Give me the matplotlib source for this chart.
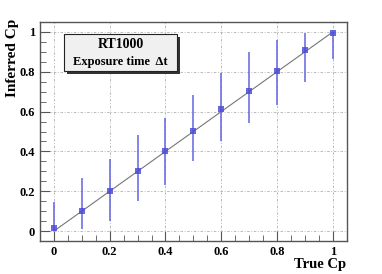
import matplotlib
matplotlib.use("Agg")
import matplotlib.pyplot as plt
from matplotlib.ticker import MultipleLocator
from matplotlib.patches import Rectangle

true_cp = [0.0, 0.1, 0.2, 0.3, 0.4, 0.5, 0.6, 0.7, 0.8, 0.9, 1.0]
inferred_cp = [0.013, 0.103, 0.200, 0.303, 0.401, 0.503, 0.612, 0.702, 0.803, 0.911, 0.993]
err_up = [0.145, 0.266, 0.360, 0.480, 0.567, 0.684, 0.793, 0.898, 0.958, 0.993, 1.0]
err_lo = [0.0, 0.012, 0.053, 0.149, 0.231, 0.353, 0.452, 0.545, 0.632, 0.748, 0.863]

plt.rcParams['font.family'] = ['Liberation Serif', 'DejaVu Serif']
plt.rcParams['font.weight'] = 'bold'

fig = plt.figure(figsize=(3.82, 2.74), dpi=100)
ax = fig.add_axes([0.1047, 0.1204, 0.803, 0.7993])

ax.grid(True, which='major', color='#b0b0b0', linestyle=(0, (3, 2, 1, 2)), linewidth=0.6)
ax.plot([0, 1], [0, 1], color='#777777', linewidth=0.8, zorder=2)

yerr = [[y - lo for y, lo in zip(inferred_cp, err_lo)],
        [hi - y for y, hi in zip(inferred_cp, err_up)]]
ax.errorbar(true_cp, inferred_cp, yerr=yerr, fmt='s', color='#4d4ddb',
            ecolor='#6464e0', elinewidth=1.3, capsize=0, markersize=4.5,
            markeredgewidth=0, alpha=0.85, zorder=3)

ax.set_xlim(-0.05, 1.05)
ax.set_ylim(-0.05, 1.05)
ax.xaxis.set_minor_locator(MultipleLocator(0.05))
ax.yaxis.set_minor_locator(MultipleLocator(0.05))
ax.set_xticks([0, 0.2, 0.4, 0.6, 0.8, 1.0])
ax.set_xticklabels(['0', '0.2', '0.4', '0.6', '0.8', '1'])
ax.set_yticks([0, 0.2, 0.4, 0.6, 0.8, 1.0])
ax.set_yticklabels(['0', '0.2', '0.4', '0.6', '0.8', '1'])
ax.tick_params(which='both', direction='in', labelsize=9, color='#555555')
ax.tick_params(which='major', length=7, pad=3.5)
ax.tick_params(which='minor', length=4)
for lab in ax.get_xticklabels() + ax.get_yticklabels():
    lab.set_fontweight('bold')
for s in ax.spines.values():
    s.set_color('#555555')
    s.set_linewidth(1.0)

fig.text(0.906, 0.035, 'True Cp', ha='right', va='center', fontsize=10.5, fontweight='bold')
fig.text(0.032, 0.93, 'Inferred Cp', ha='center', va='top', rotation=90,
         fontsize=11, fontweight='bold')

# legend box with shadow
bx, by, bw, bh = 64 / 382, 1 - 71 / 274, 113 / 382, 37 / 274
fig.patches.append(Rectangle((bx + 0.008, by - 0.011), bw, bh, transform=fig.transFigure,
                             facecolor='#333333', edgecolor='none', zorder=5))
fig.patches.append(Rectangle((bx, by), bw, bh, transform=fig.transFigure,
                             facecolor='#f0f0f0', edgecolor='#222222', linewidth=0.8, zorder=6))
fig.text(bx + bw / 2, 1 - 45 / 274, 'RT1000', ha='center', va='center',
         fontsize=10, fontweight='bold', zorder=7)
fig.text(bx + bw / 2, 1 - 62 / 274, 'Exposure time  \u0394t', ha='center', va='center',
         fontsize=9, fontweight='bold', zorder=7)

fig.savefig('out.png', dpi=100)
